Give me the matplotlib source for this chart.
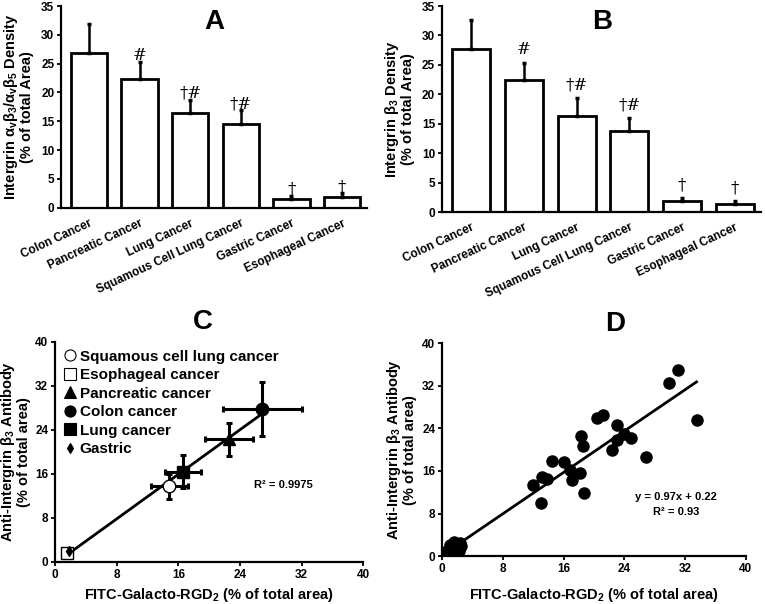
import numpy as np
import matplotlib
matplotlib.use('Agg')
import matplotlib.pyplot as plt
from matplotlib.lines import Line2D

plt.rcParams['font.family'] = ['Liberation Sans', 'DejaVu Sans']
plt.rcParams['font.weight'] = 'bold'
plt.rcParams['axes.labelweight'] = 'bold'
plt.rcParams['mathtext.fontset'] = 'custom'
plt.rcParams['mathtext.rm'] = 'Liberation Sans:bold'
plt.rcParams['mathtext.it'] = 'Liberation Sans:bold'
plt.rcParams['mathtext.bf'] = 'Liberation Sans:bold'

# Bar panels A and B
cancers = ['Colon Cancer', 'Pancreatic Cancer', 'Lung Cancer',
           'Squamous Cell Lung Cancer', 'Gastric Cancer', 'Esophageal Cancer']
marks = ['', '#', '†#', '†#', '†', '†']
a_vals = [26.8, 22.4, 16.4, 14.6, 1.6, 1.8]
a_err = [5.0, 2.9, 2.3, 2.3, 0.4, 0.7]
b_vals = [27.7, 22.5, 16.3, 13.7, 1.8, 1.4]
b_err = [5.0, 2.9, 3.1, 2.2, 0.6, 0.4]

# Panel C: group means
groups = ['Squamous cell lung cancer', 'Esophageal cancer', 'Pancreatic cancer',
          'Colon cancer', 'Lung cancer', 'Gastric']
c_x = [14.8, 1.6, 22.6, 26.9, 16.6, 1.8]
c_y = [13.7, 1.5, 22.3, 27.8, 16.4, 1.9]
c_xerr = [2.4, 0.4, 3.1, 5.1, 2.3, 0.4]
c_yerr = [2.3, 0.5, 3.0, 4.9, 3.0, 0.5]
c_markers = ['o', 's', '^', 'o', 's', 'd']
c_filled = [False, False, True, True, True, True]

# Panel D: individual samples
d_x = [31.1, 29.9, 33.5, 20.4, 21.2, 23.0, 23.0, 23.9, 24.9, 22.4, 26.8, 18.3,
       18.6, 14.4, 16.0, 12.0, 13.1, 13.8, 16.8, 17.1, 18.2, 18.7, 13.0,
       0.7, 0.9, 1.2, 1.4, 1.6, 1.8, 2.0, 2.2, 1.0, 2.5, 1.5, 0.8, 2.3, 1.3]
d_y = [35.0, 32.6, 25.6, 25.9, 26.5, 24.7, 21.9, 22.9, 22.2, 19.9, 18.7, 22.6,
       20.7, 17.9, 17.7, 13.4, 14.9, 14.5, 16.2, 14.3, 15.7, 11.9, 10.0,
       1.0, 1.4, 0.8, 1.9, 1.2, 2.3, 1.6, 1.0, 2.1, 1.9, 2.7, 0.6, 2.5, 1.5]

fig = plt.figure(figsize=(7.65, 6.04), dpi=100)


def style(ax, lw=1.6):
    for s in ['top', 'right']:
        ax.spines[s].set_visible(False)
    for s in ['left', 'bottom']:
        ax.spines[s].set_linewidth(lw)
    ax.tick_params(width=1.3, length=3, labelsize=8.5, pad=2)


def bar_panel(rect, vals, errs, ylabel, letter, mark_off):
    ax = fig.add_axes(rect)
    x = np.arange(len(cancers))
    ax.bar(x, vals, width=0.72, color='white', edgecolor='black', linewidth=2.0)
    ax.errorbar(x, vals, yerr=[np.zeros(len(errs)), errs], fmt='none',
                ecolor='black', elinewidth=1.8, capsize=1.5, capthick=2.5)
    for xi, v, e, m in zip(x, vals, errs, marks):
        if m:
            ax.text(xi, v + e + mark_off, m, ha='center', va='bottom',
                    fontsize=12, fontweight='normal', family='DejaVu Serif')
    ax.set_xlim(-0.55, 5.5)
    ax.set_ylim(0, 35)
    ax.set_yticks(range(0, 36, 5))
    ax.set_xticks(x)
    ax.set_xticklabels(cancers, rotation=25, ha='right', rotation_mode='anchor',
                       fontsize=8.3)
    style(ax)
    ax.tick_params(axis='x', length=0, pad=7)
    ax.set_ylabel(ylabel, fontsize=10.5, labelpad=5, linespacing=1.0)
    ax.text(0.5, 0.985, letter, transform=ax.transAxes, ha='center', va='top',
            fontsize=20)
    return ax


bar_panel([0.080, 0.656, 0.400, 0.334], a_vals, a_err,
          'Intergrin $\\alpha_v\\beta_3/\\alpha_v\\beta_5$ Density\n(% of total Area)',
          'A', -0.3)
bar_panel([0.578, 0.649, 0.417, 0.341], b_vals, b_err,
          'Intergrin $\\beta_3$ Density\n(% of total Area)', 'B', 0.8)

# Panel C
axc = fig.add_axes([0.072, 0.070, 0.403, 0.364])
handles = []
for i in range(len(groups)):
    axc.errorbar(c_x[i], c_y[i], xerr=c_xerr[i], yerr=c_yerr[i], fmt='none',
                 ecolor='black', elinewidth=2.2, capsize=2, capthick=2.2, zorder=2)
for i in range(len(groups)):
    ms = 5 if c_markers[i] == 'd' else 9
    axc.plot(c_x[i], c_y[i], marker=c_markers[i], ms=ms, ls='none',
             mfc='black' if c_filled[i] else 'white', mec='black', mew=1.0, zorder=4)
    handles.append(Line2D([], [], marker=c_markers[i], ls='none',
                          ms=5 if c_markers[i] == 'd' else 8,
                          mfc='black' if c_filled[i] else 'white',
                          mec='black', mew=0.8, label=groups[i]))
cx = np.array(c_x)
cy = np.array(c_y)
k, b0 = np.polyfit(cx, cy, 1)
xx = np.array([cx.min(), cx.max()])
axc.plot(xx, k * xx + b0, color='black', lw=2, zorder=3)
axc.legend(handles=handles, loc='upper left', frameon=False, fontsize=11,
           handletextpad=0.1, handlelength=1.0, labelspacing=0.3,
           borderaxespad=0.1, bbox_to_anchor=(0.0, 1.0))
axc.text(29.6, 14.0, 'R² = 0.9975', ha='center', va='center', fontsize=8)
axc.set_xlim(0, 40)
axc.set_ylim(0, 40)
axc.set_xticks(range(0, 41, 8))
axc.set_yticks(range(0, 41, 8))
style(axc)
axc.set_xlabel('FITC-Galacto-RGD$_2$ (% of total area)', fontsize=10.5, labelpad=4)
axc.set_ylabel('Anti-Intergrin $\\beta_3$ Antibody\n(% of total area)',
               fontsize=10.5, labelpad=3, linespacing=1.0)
axc.text(0.48, 1.03, 'C', transform=axc.transAxes, ha='center', va='bottom',
         fontsize=20)

# Panel D
axd = fig.add_axes([0.578, 0.079, 0.397, 0.353])
axd.plot(d_x, d_y, 'o', color='black', ms=8, ls='none')
xx = np.array([0.5, 33.5])
axd.plot(xx, 0.97 * xx + 0.22, color='black', lw=2)
axd.text(30.8, 11.2, 'y = 0.97x + 0.22', ha='center', va='center', fontsize=8)
axd.text(30.8, 8.3, 'R² = 0.93', ha='center', va='center', fontsize=8)
axd.set_xlim(0, 40)
axd.set_ylim(0, 40)
axd.set_xticks(range(0, 41, 8))
axd.set_yticks(range(0, 41, 8))
style(axd)
axd.set_xlabel('FITC-Galacto-RGD$_2$ (% of total area)', fontsize=10.5, labelpad=8)
axd.set_ylabel('Anti-Intergrin $\\beta_3$ Antibody\n(% of total area)',
               fontsize=10.5, labelpad=4, linespacing=1.0)
axd.text(0.57, 1.03, 'D', transform=axd.transAxes, ha='center', va='bottom',
         fontsize=20)

fig.savefig('out.png', dpi=100)
